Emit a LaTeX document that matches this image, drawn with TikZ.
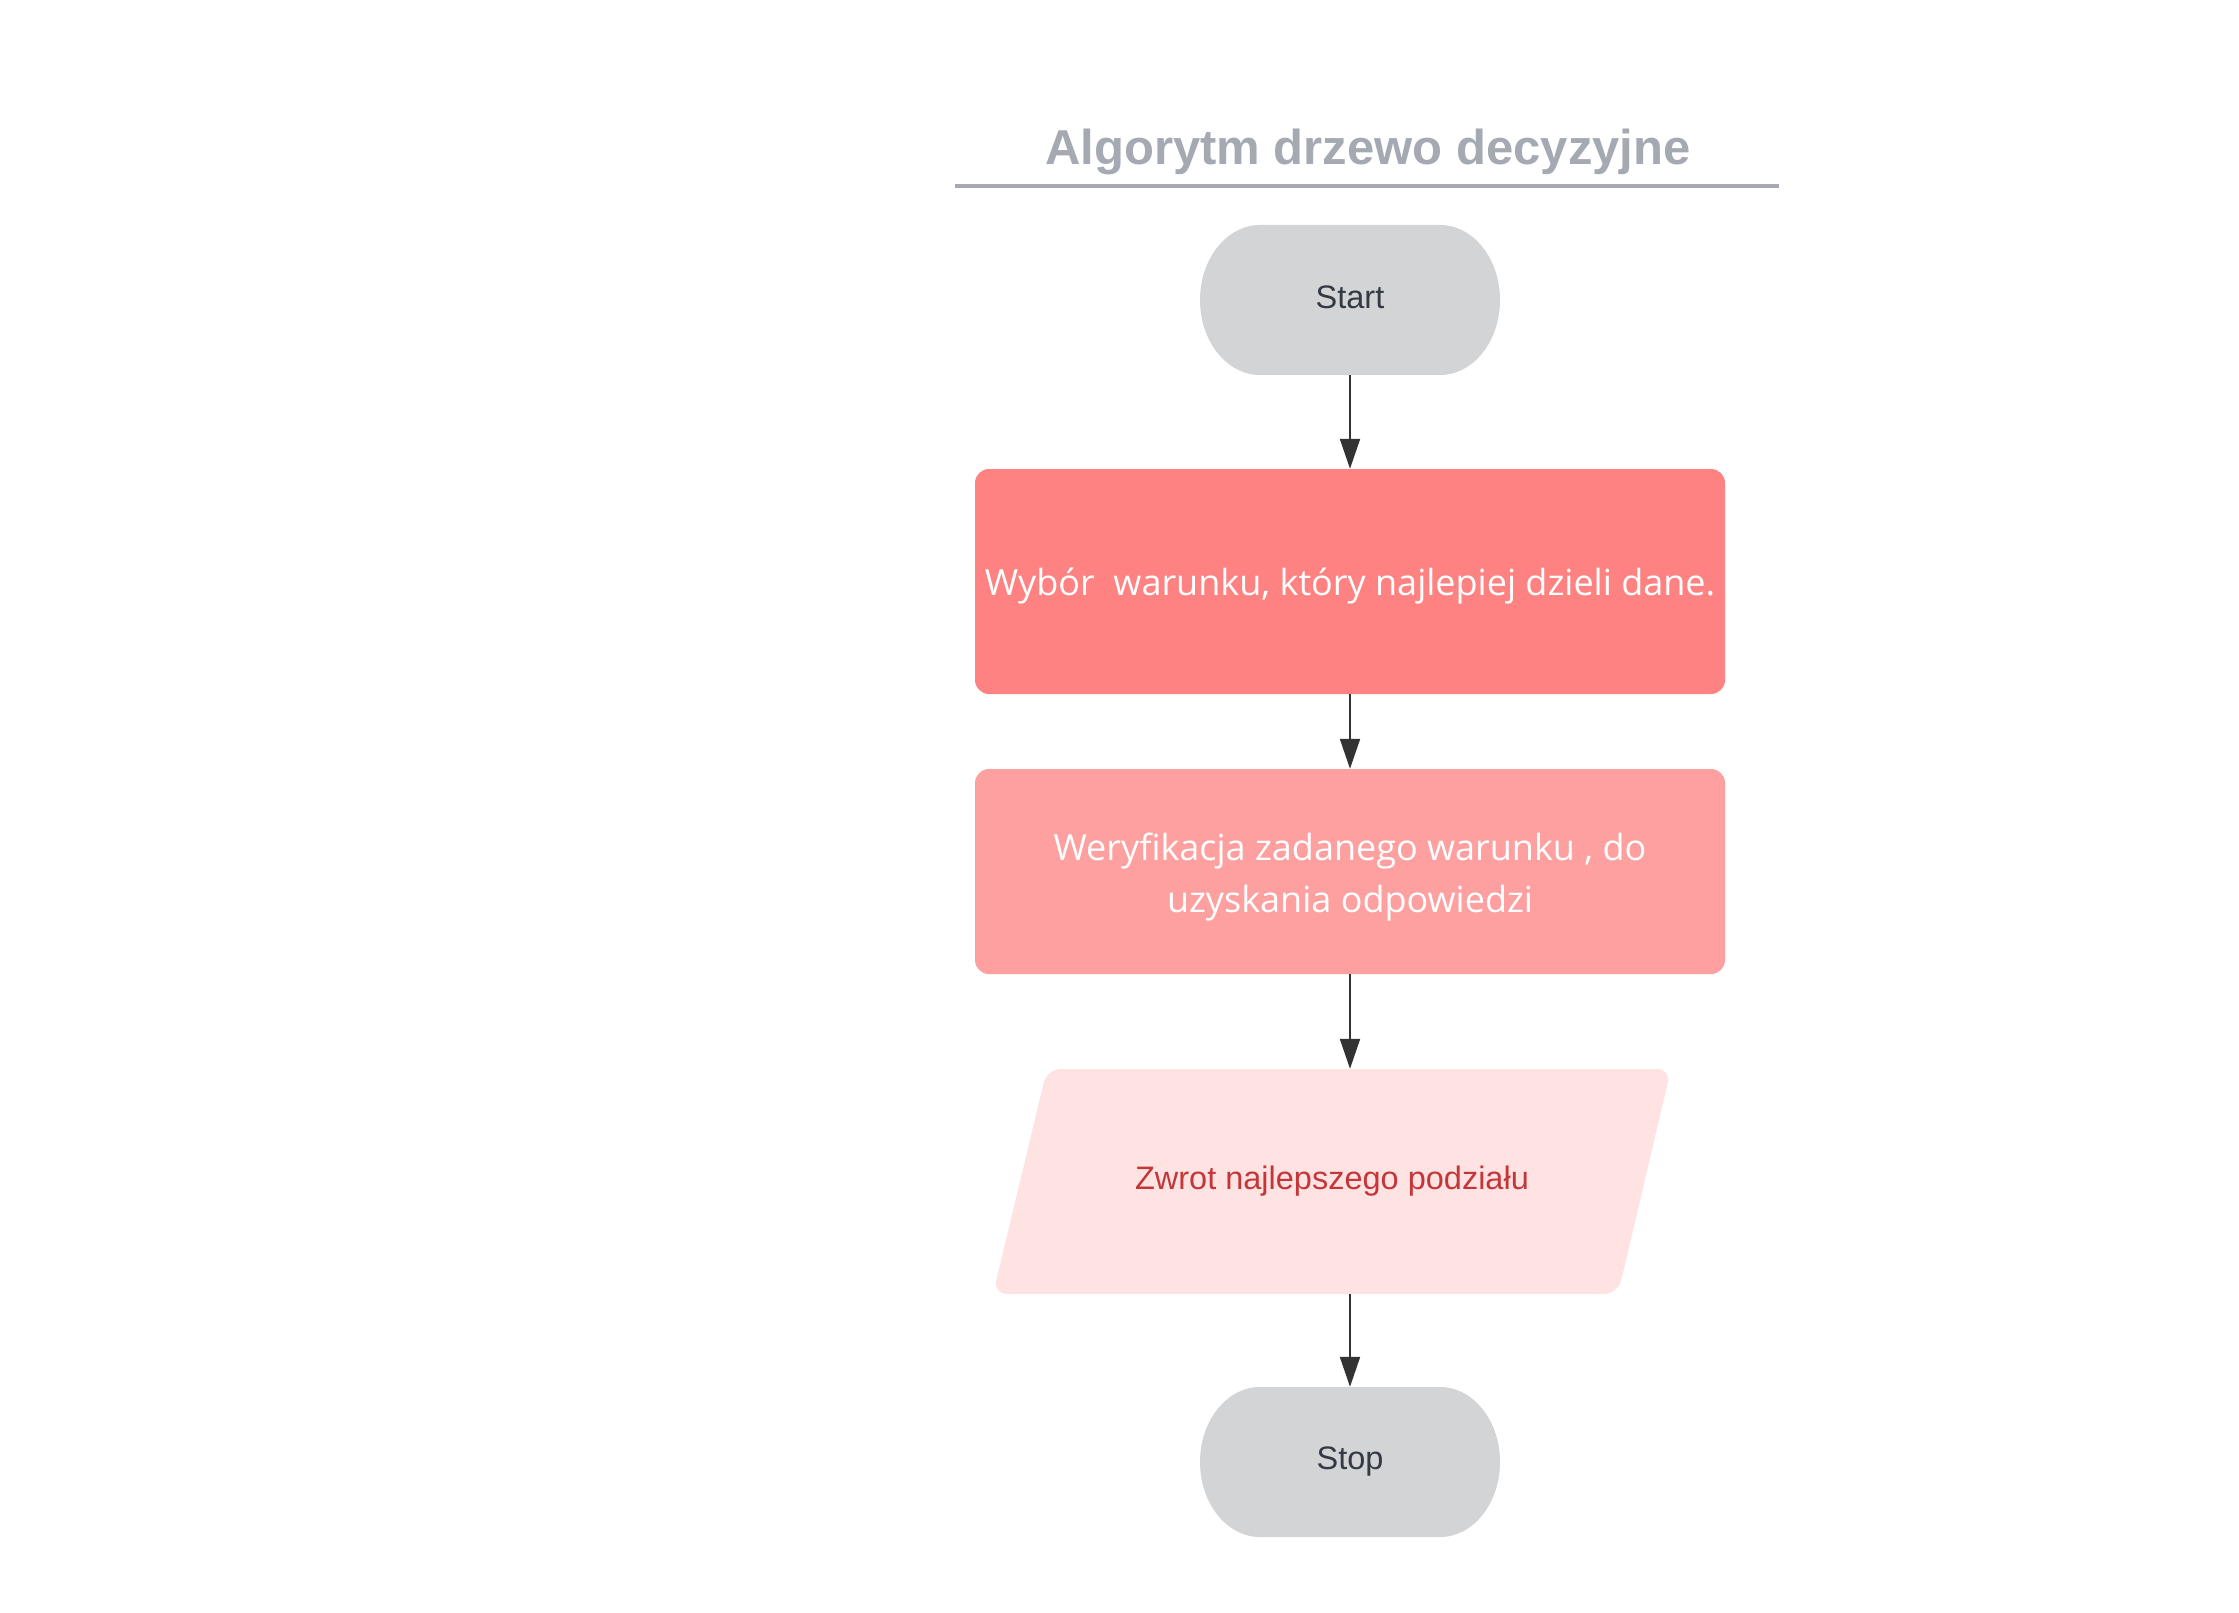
\documentclass[tikz,border=0pt]{standalone}
\usepackage{fontspec}
\setmainfont{Liberation Sans}
\newfontfamily\opensans{Open Sans}
\usetikzlibrary{arrows.meta,calc}
\definecolor{termgray}{HTML}{D3D4D6}
\definecolor{titlegray}{HTML}{A4A9B2}
\definecolor{boxa}{HTML}{FF8282}
\definecolor{boxb}{HTML}{FEA09F}
\definecolor{iofill}{HTML}{FEE3E2}
\definecolor{iotext}{HTML}{C4363A}
\definecolor{darktext}{HTML}{333A44}
\definecolor{arrowc}{HTML}{333333}
\tikzset{
  term/.style={minimum width=300pt, minimum height=150pt, inner sep=0pt,
    text=darktext, font=\fontsize{32.5pt}{39pt}\selectfont,
    path picture={\fill[termgray]
      ($(path picture bounding box.north west)+(60pt,0pt)$) --
      ($(path picture bounding box.north east)+(-60pt,0pt)$)
      arc[start angle=90, end angle=-90, x radius=60pt, y radius=75pt] --
      ($(path picture bounding box.south west)+(60pt,0pt)$)
      arc[start angle=270, end angle=90, x radius=60pt, y radius=75pt] -- cycle;}},
  procbox/.style={rectangle, rounded corners=14pt, minimum width=750pt, inner sep=0pt,
    text=white, align=center, font=\opensans\fontsize{36pt}{52pt}\selectfont},
  iobox/.style={minimum width=678pt, minimum height=225pt, inner sep=0pt,
    text=iotext, font=\fontsize{32.5pt}{39pt}\selectfont,
    path picture={\fill[iofill, rounded corners=14pt]
      ($(path picture bounding box.north west)+(54pt,0pt)$) --
      (path picture bounding box.north east) --
      ($(path picture bounding box.south east)+(-53pt,0pt)$) --
      (path picture bounding box.south west) -- cycle;}},
  conn/.style={draw=arrowc, line width=2pt, -{Triangle[length=30pt,width=20pt]}},
  titlestyle/.style={text=titlegray, font=\bfseries\fontsize{49pt}{58pt}\selectfont, inner sep=0pt}
}
\begin{document}
\begin{tikzpicture}[x=1pt,y=-1pt]
\useasboundingbox (0,0) rectangle (2239,1613);
\fill[white] (0,0) rectangle (2239,1613);
\node[titlestyle] (title) at (1368,152) {Algorytm drzewo decyzyjne};
\draw[titlegray, line width=3.5pt] (955,186) -- (1779,186);
\node[term] (start) at (1350,300) {\raisebox{3pt}[\height][\depth]{Start}};
\node[procbox, fill=boxa, minimum height=225pt] (choose) at (1350,581.5) {\raisebox{-5pt}[\height][\depth]{Wybór\ \ warunku, który najlepiej dzieli dane.}};
\node[procbox, fill=boxb, minimum height=205pt] (verify) at (1350,871.5) {\raisebox{-5pt}[\height][\depth]{\begin{tabular}{@{}c@{}}Weryfikacja zadanego warunku , do\\uzyskania odpowiedzi\end{tabular}}};
\node[iobox] (ret) at (1332,1181.5) {Zwrot najlepszego podziału};
\node[term] (stop) at (1350,1462) {Stop};
\draw[conn] (start) -- (choose);
\draw[conn] (choose) -- (verify);
\draw[conn] (verify.south) -- (verify.south |- ret.north);
\draw[conn] (stop.north |- ret.south) -- (stop.north);
\end{tikzpicture}
\end{document}
